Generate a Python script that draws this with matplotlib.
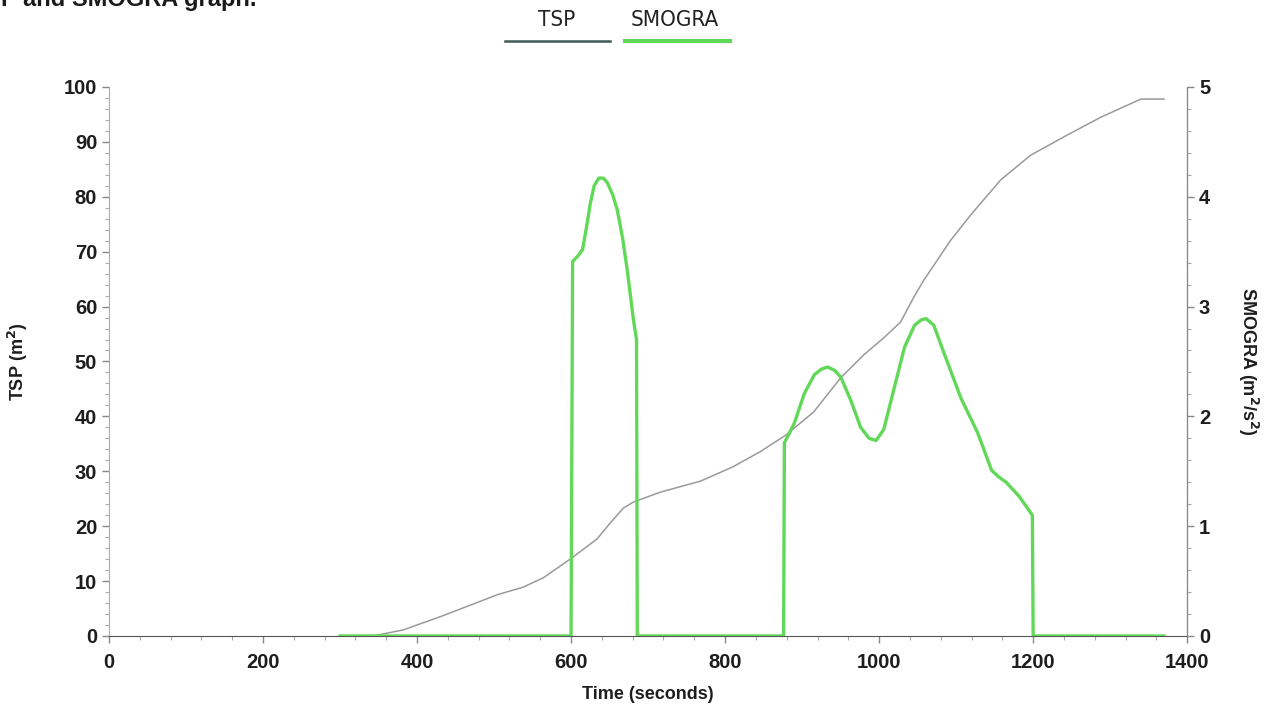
import matplotlib
matplotlib.use('Agg')
from matplotlib import pyplot as plt
from matplotlib.ticker import MultipleLocator
from matplotlib.lines import Line2D

plt.rcParams['font.family'] = ['Liberation Sans', 'DejaVu Sans']

# TSP (m2), left axis
tsp_t = [300, 343, 382, 430, 469, 504, 538, 564, 599, 634, 651, 668, 681, 716,
         768, 810, 846, 879, 915, 950, 980, 1006, 1028, 1045, 1058, 1093, 1119,
         1158, 1197, 1245, 1288, 1340, 1370]
tsp_v = [0, 0, 1.1, 3.5, 5.6, 7.5, 8.9, 10.6, 14.0, 17.7, 20.6, 23.3, 24.4, 26.2,
         28.2, 30.8, 33.6, 36.6, 40.8, 47.0, 51.2, 54.3, 57.2, 61.7, 64.8, 72.1, 76.7,
         83.1, 87.6, 91.3, 94.5, 97.8, 97.8]

# SMOGRA (m2/s2), right axis
smo_t = [300, 600, 602, 610, 615, 620, 625, 630, 636, 642, 647, 654, 660, 667, 673,
         681, 685, 686,
         876, 877, 883, 890, 903, 916, 925, 933, 942, 950, 963, 976, 987, 996, 1006,
         1020, 1033, 1046, 1055, 1061, 1071, 1083, 1106, 1128, 1146, 1155, 1165,
         1182, 1199, 1200, 1370]
smo_v = [0, 0, 3.41, 3.47, 3.52, 3.72, 3.94, 4.10, 4.17, 4.17, 4.13, 4.02, 3.88,
         3.62, 3.33, 2.88, 2.70, 0,
         0, 1.76, 1.84, 1.94, 2.21, 2.38, 2.43, 2.45, 2.42, 2.36, 2.15, 1.90, 1.80,
         1.78, 1.88, 2.27, 2.63, 2.83, 2.88, 2.89, 2.83, 2.60, 2.17, 1.85, 1.51,
         1.45, 1.40, 1.27, 1.10, 0, 0]

green = '#62d858'
tick_col = '#1e1e1e'

fig = plt.figure(figsize=(12.67, 7.06), dpi=100)
ax = fig.add_axes([0.086, 0.0992, 0.8510, 0.7776])
ax2 = ax.twinx()

ax.plot(tsp_t, tsp_v, color='#9a9a9a', lw=1.1, zorder=3)
ax2.plot(smo_t, smo_v, color=green, lw=2.4, zorder=4, solid_joinstyle='round')

ax.set_xlim(0, 1400)
ax.set_ylim(0, 100)
ax2.set_ylim(0, 5)

ax.xaxis.set_major_locator(MultipleLocator(200))
ax.xaxis.set_minor_locator(MultipleLocator(40))
ax.yaxis.set_major_locator(MultipleLocator(10))
ax.yaxis.set_minor_locator(MultipleLocator(2))
ax2.yaxis.set_major_locator(MultipleLocator(1))
ax2.yaxis.set_minor_locator(MultipleLocator(0.2))

for a in (ax, ax2):
    a.spines['top'].set_visible(False)
    a.tick_params(which='major', length=5, color='#888888', width=1,
                  labelsize=14.5, labelcolor=tick_col)
    a.tick_params(which='minor', length=3, color='#aaaaaa', width=0.8)
    for lab in a.get_xticklabels() + a.get_yticklabels():
        lab.set_fontweight('bold')
ax.spines['left'].set_color('#aaaaaa')
ax.spines['bottom'].set_color('#555555')
ax2.spines['right'].set_color('#888888')
ax2.spines['left'].set_visible(False)
ax2.spines['bottom'].set_visible(False)
ax.tick_params(axis='x', pad=7)

ax.set_xlabel('Time (seconds)', fontsize=13, fontweight='bold', color=tick_col, labelpad=10)
ax.set_ylabel('TSP (m$^\\mathbf{2}$)', fontsize=13, fontweight='bold', color=tick_col, labelpad=24)
ax2.set_ylabel('SMOGRA (m$^\\mathbf{2}$/s$^\\mathbf{2}$)', fontsize=13, fontweight='bold',
               color=tick_col, rotation=-90, labelpad=36)

# heading, cut by the top edge as in the source image
fig.text(0.001, 0.992, 'P and SMOGRA graph.', fontsize=17, fontweight='bold',
         color='#1a1a1a', ha='left', va='baseline')

# legend: labels above line samples
fig.text(0.4396, 0.972, 'TSP', fontsize=16, ha='center', va='center',
         color='#222222', family=['DejaVu Sans'], stretch='condensed')
fig.text(0.5328, 0.972, 'SMOGRA', fontsize=16, ha='center', va='center',
         color='#222222', family=['DejaVu Sans'], stretch='condensed')
fig.add_artist(Line2D([0.3986, 0.4815], [0.942, 0.942], color='#3d5a55', lw=1.8,
                      transform=fig.transFigure))
fig.add_artist(Line2D([0.4933, 0.5762], [0.942, 0.942], color=green, lw=3,
                      transform=fig.transFigure))

fig.savefig('out.png', dpi=100)
